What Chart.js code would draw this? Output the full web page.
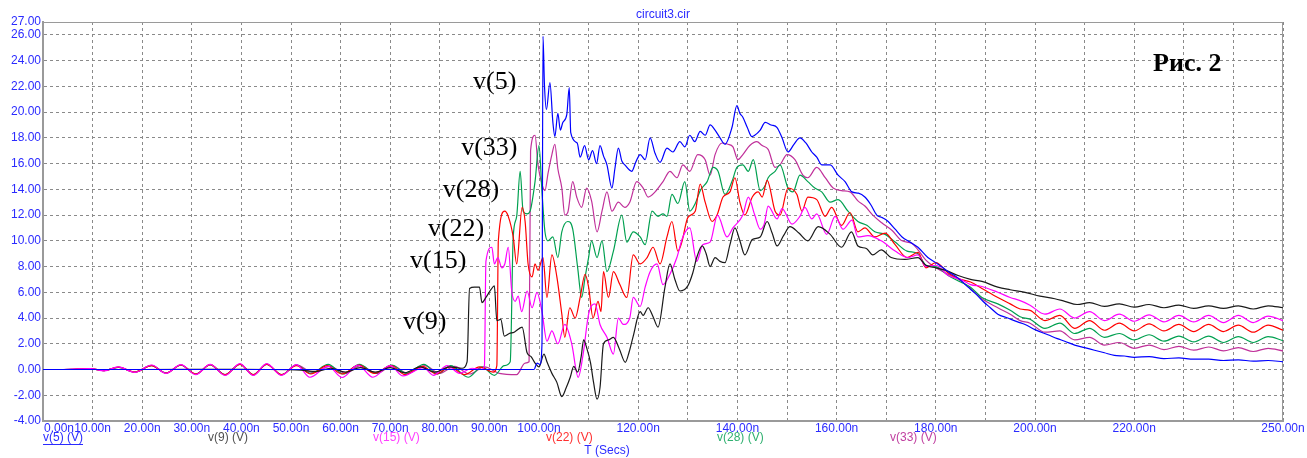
<!DOCTYPE html>
<html>
<head>
<meta charset="utf-8">
<script src="https://cdn.jsdelivr.net/npm/chart.js@4.4.0/dist/chart.umd.min.js"></script>
<style>
body { margin: 0; background: #fff; }
#wrap { position: relative; width: 1307px; height: 458px; }
</style>
</head>
<body>
<div id="wrap"><canvas id="plot"></canvas></div>
<script>
// transient voltages, [time ns, volts]
var v5 = [[0,0],[99,0],[99.6,0.5],[100.2,0.4],[100.6,2],[100.8,25.9],[101.1,22.1],[101.5,20.2],[102.2,22.3],[102.8,19.2],[103.2,18.1],[103.8,19.9],[104.3,18.6],[104.8,19.2],[105.6,19.8],[106.1,21.9],[106.4,18.4],[107.7,17.6],[108.3,16.5],[109.2,17.4],[110,16.3],[110.8,17.0],[111.6,16.0],[112.3,17.4],[113,16.6],[113.7,15.9],[114.7,14.1],[115.3,15.6],[116,17.2],[116.7,16.2],[117.3,15.9],[118.7,15.4],[119.5,16.1],[120.4,16.7],[121.4,16.3],[122.4,18.0],[123.4,16.8],[124.4,16.1],[125.8,17.2],[127,16.9],[128.4,17.7],[129.4,17.3],[130.4,18.2],[131.4,17.7],[132.5,18.5],[133.5,18.2],[134.5,19.0],[135.5,18.6],[136.5,18.0],[137.5,17.5],[138.9,18.8],[139.9,20.5],[140.5,19.9],[141.1,19.6],[142,18.8],[142.9,18.1],[143.5,18.2],[144.6,18.6],[145.6,19.2],[146.8,19.0],[148,18.8],[149,18.0],[150.2,16.9],[151.4,17.5],[152.6,18.0],[153.8,17.6],[155,16.9],[156,16.5],[157,15.9],[158.7,15.9],[160.3,15.1],[161.7,14.6],[163.1,13.8],[164.4,13.7],[165.7,13.4],[166.9,12.8],[168.1,12.0],[169.2,11.8],[170.4,11.5],[171.8,10.9],[173.2,10.3],[174.8,9.9],[176.4,9.5],[178.4,8.7],[180.4,8.2],[182.5,7.6],[184.5,7.1],[186.5,6.4],[188,5.9],[189.5,5.3],[191,4.8],[192.5,4.3],[194.5,4.0],[196.5,3.7],[198,3.5],[200,3.1],[202.6,2.7],[204.5,2.4],[206,2.2],[208,1.9],[210,1.7],[212,1.5],[214,1.3],[216,1.1],[218,1.05],[220,0.95],[223,1.0],[226,0.85],[229,0.9],[232,0.8],[235,0.8],[238,0.7],[241,0.75],[244,0.65],[247,0.7],[250,0.6]];

var v9 = [[0,0],[20,0],[40,0.02],[52,-0.05],[55,-0.15],[58,0.1],[61,-0.2],[64,0.15],[67,-0.2],[70,0.15],[73,-0.25],[76,0.2],[79,-0.2],[82,0.2],[84.5,0.1],[85.5,0.6],[86,6.3],[87,6.4],[88,6.4],[88.5,5.2],[89.3,5.6],[90.3,6.2],[91,6.5],[91.5,3.8],[92.3,3.9],[93,2.6],[94,2.8],[95,2.9],[96.6,3.3],[97.6,1.3],[98.4,1.0],[99.2,0.5],[100,0.2],[101,1.2],[101.6,0.6],[102.6,-0.3],[103.6,-1.0],[104.6,-2.1],[105.5,-1.4],[106.3,-0.6],[107,0.25],[107.8,-0.2],[108.5,1.0],[109,2.3],[109.6,1.7],[110.4,0.5],[111,-1.0],[111.7,-2.3],[112.3,-1.4],[113,2.0],[114,2.3],[115,2.5],[116.2,1.6],[117.4,0.56],[118.2,1.4],[119,2.6],[120.4,4.5],[121,4.2],[122,4.8],[123,4.1],[124,3.3],[125.4,6.4],[126.4,8.2],[127.4,7.0],[128.4,6.1],[130,6.5],[131,7.5],[131.8,8.7],[132.9,9.6],[133.7,9.0],[134.5,8.0],[135.5,8.7],[136.5,8.4],[137.5,8.3],[138.5,9.7],[139.5,11.0],[140.5,10.0],[141.5,8.9],[143,10.1],[144.6,10.3],[146,11.5],[147,10.6],[148,9.6],[149.3,10.4],[150.6,11.1],[152.4,10.6],[154.2,10.0],[156.3,11.1],[158.7,10.5],[161,9.5],[163,10.7],[164.3,9.6],[166,9.4],[167.3,8.9],[169,9.3],[171,8.7],[173.8,8.55],[176.4,8.7],[178,8.1],[180,7.9],[182,7.7],[184.5,7.3],[187,7.0],[189.3,6.85],[192.5,6.4],[195,6.2],[198,6.0],[201,5.7],[204,5.5],[206,5.3],[208.5,5.05],[211,5.2],[214,4.9],[217,5.1],[220,4.85],[223,5.05],[226,4.8],[229,5.0],[232,4.75],[235,4.95],[238,4.75],[241,4.95],[244,4.7],[247,4.95],[250,4.8]];

var v15 = [[0,0],[3,0],[6,0.03],[9.5,0.08],[12.3,-0.1],[15.2,0.2],[18.5,-0.22],[21.9,0.35],[24.8,-0.3],[27.8,0.38],[30.8,-0.4],[33.7,0.4],[36.7,-0.45],[39.7,0.45],[42.4,-0.45],[45.1,0.45],[48.1,-0.45],[51.1,0.38],[53.8,-0.6],[57.5,0.25],[60.3,-0.62],[63.5,0.34],[66.5,-0.6],[70,0.3],[72.6,-0.5],[76.7,0.15],[78.7,-0.45],[81.5,0.3],[84,-0.3],[86.5,0.1],[88.5,0.0],[89,0.3],[89.3,8.4],[90.5,9.5],[91,8.2],[91.7,8.7],[92.5,7.9],[93.1,8.2],[93.8,9.5],[94.5,6.1],[95.2,5.3],[95.8,5.7],[96.5,4.5],[97.6,6.1],[98.6,4.8],[99.6,6.0],[100.6,4.5],[101.6,2.2],[102.6,3.0],[103.8,2.0],[105.2,3.5],[106.6,2.0],[107.9,-0.6],[108.9,1.2],[110,4.3],[111.3,5.1],[112.3,3.5],[113.7,2.5],[115,1.2],[116,4.0],[117,3.5],[118.3,4.0],[119,5.6],[120.4,4.9],[121.4,6.4],[122.4,7.6],[123.8,8.2],[125,6.6],[126.4,7.4],[127.8,8.7],[129,10.3],[130.4,11.0],[131.8,8.4],[133,9.7],[134.5,9.9],[136,12.0],[137.9,10.3],[139.1,11.0],[141.1,12.0],[142.2,13.4],[143.5,12.0],[144.6,10.9],[145.4,11.3],[146.2,12.7],[148,11.7],[149,12.5],[151,11.3],[152.6,11.9],[153.6,12.6],[155,11.7],[156,12.1],[158,10.5],[159.7,11.9],[161.3,10.9],[163.1,11.6],[164.3,10.3],[166.3,10.4],[169,10.0],[171.8,9.2],[174.4,8.7],[176.4,8.9],[178,8.0],[180,8.1],[182.5,7.3],[185,7.0],[187,6.6],[189.3,6.45],[192.5,6.0],[195,5.6],[197,5.35],[199,5.0],[202,4.3],[205,4.7],[208,4.0],[211,4.5],[214,3.8],[217,4.3],[220,3.75],[223,4.25],[226,3.7],[229,4.2],[232,3.7],[235,4.2],[238,3.65],[241,4.2],[244,3.65],[247,4.15],[250,3.8]];

var v22 = [[0,0],[3,0],[6,0.02],[9.5,0.07],[12.3,-0.08],[15.2,0.18],[18.5,-0.2],[21.9,0.3],[24.8,-0.28],[27.8,0.35],[30.8,-0.35],[33.7,0.38],[36.7,-0.4],[39.7,0.4],[42.4,-0.4],[45.1,0.4],[48.1,-0.4],[51.1,0.3],[54,-0.35],[57.3,0.3],[60.3,-0.35],[63.7,0.35],[66.8,-0.3],[70.2,0.3],[73,-0.4],[76.5,0.25],[79.3,-0.35],[82,0.2],[85,-0.4],[88,0.2],[90.8,-0.2],[91.5,0.3],[91.8,10.0],[93.1,12.3],[93.8,11.9],[94.8,10.3],[95.5,8.2],[96.6,12.6],[97.2,11.5],[97.8,8.2],[98.6,7.2],[99.2,8.2],[99.8,7.7],[100.8,8.7],[101.6,5.6],[102.6,8.9],[103.6,7.2],[104.6,4.3],[105.2,2.5],[106.2,4.8],[107.3,4.0],[108.3,5.6],[109.3,7.4],[110,6.4],[110.9,4.0],[111.9,5.3],[112.5,4.5],[113,7.6],[114,5.6],[115,7.6],[116.3,6.6],[117.7,5.6],[119,8.9],[120.4,8.2],[121.8,8.7],[123,9.5],[124.4,8.2],[125.8,10.3],[126.8,11.5],[128,9.2],[128.8,9.9],[130,11.8],[131.5,12.3],[132.5,14.4],[133.5,13.0],[134.9,11.5],[135.9,12.0],[137.1,13.4],[138.5,13.8],[139.5,14.9],[140.5,13.0],[141.5,12.0],[143,13.4],[144.2,13.8],[145,13.4],[146,14.7],[147.6,12.3],[148.6,12.0],[150.2,14.1],[152,13.6],[153,12.3],[154.2,13.4],[156,13.2],[157.7,11.9],[159,12.6],[161,11.2],[162.7,12.2],[164.3,10.7],[165.7,11.0],[167.7,10.3],[169.8,10.6],[171.8,9.7],[174.2,8.7],[176.4,9.1],[178,7.9],[180,8.3],[182.5,7.5],[185,7.0],[187,6.8],[189.3,6.3],[192.5,5.6],[195,5.1],[197,4.7],[199,4.6],[202,3.8],[205,4.2],[208,3.2],[211,3.8],[214,3.05],[217,3.6],[220,3.0],[223,3.55],[226,3.0],[229,3.5],[232,2.95],[235,3.5],[238,2.95],[241,3.45],[244,2.9],[247,3.45],[250,3.05]];

var v28 = [[0,0],[3,0],[6,0.02],[9.5,0.06],[12.3,-0.08],[15.2,0.17],[18.5,-0.2],[21.9,0.3],[24.8,-0.27],[27.8,0.33],[30.8,-0.35],[33.7,0.36],[36.7,-0.4],[39.7,0.4],[42.4,-0.4],[45.1,0.4],[48.1,-0.4],[51.1,0.35],[54,-0.3],[57.5,0.4],[60.5,-0.35],[63.8,0.4],[67,-0.3],[70.3,0.35],[73.3,-0.3],[76.8,0.4],[79.5,-0.35],[82.2,0.3],[85.7,-0.6],[88.5,0.2],[91,-0.45],[93,0.3],[94.2,0.6],[94.8,10.3],[95.5,11.9],[96.2,15.4],[96.8,12.3],[97.6,12.1],[98.2,12.3],[99.2,14.6],[100,17.4],[100.6,13.8],[101.2,10.7],[101.8,10.0],[102.8,10.3],[103.8,8.7],[104.6,10.7],[105.8,11.5],[106.8,10.9],[107.8,7.9],[108.6,5.6],[109.3,7.2],[110,8.7],[110.6,10.0],[111.7,8.7],[112.7,10.0],[113.7,7.6],[115,9.2],[116.7,12.0],[117.7,9.9],[119,10.7],[120.4,10.3],[121.4,9.7],[122.8,12.3],[124,11.9],[125,12.1],[125.8,11.9],[126.8,13.6],[128,12.9],[129.4,14.6],[130.4,12.3],[131.5,12.9],[132.5,13.9],[133.9,14.6],[135.1,15.7],[136.1,15.4],[137.5,13.6],[138.9,14.6],[139.9,15.7],[141.1,15.9],[142.2,15.4],[143.2,16.3],[144.6,13.9],[145.6,14.3],[146.2,14.9],[147.6,15.4],[148.6,15.9],[150.2,14.1],[151.2,13.8],[152.6,15.1],[154.2,14.6],[155.6,14.1],[157,13.8],[158.7,13.0],[160.3,13.2],[162.3,12.3],[164.3,11.5],[166.1,11.2],[167.7,10.7],[169.8,10.5],[171.8,9.9],[174.2,9.2],[176.4,9.0],[178,8.1],[180,8.0],[182.5,7.3],[185,6.8],[187,6.4],[189.3,5.6],[192.5,5.1],[195,4.6],[197,4.1],[199,3.9],[202,3.2],[205,3.6],[208,2.8],[211,3.2],[214,2.5],[217,2.8],[220,2.3],[223,2.7],[226,2.2],[229,2.6],[232,2.15],[235,2.6],[238,2.1],[241,2.55],[244,2.1],[247,2.55],[250,2.25]];

var v33 = [[0,0],[3,0],[6,0.02],[9.5,0.07],[12.3,-0.09],[15.2,0.19],[18.5,-0.21],[21.9,0.32],[24.8,-0.29],[27.8,0.36],[30.8,-0.37],[33.7,0.38],[36.7,-0.42],[39.7,0.42],[42.4,-0.42],[45.1,0.42],[48.1,-0.42],[51.1,0.36],[54.5,-0.25],[57.8,0.25],[61,-0.3],[64,0.3],[67.3,-0.3],[70.5,0.3],[73.5,-0.3],[77,0.3],[80,-0.3],[83,0.25],[86,-0.35],[89,0.2],[92,-0.3],[95.5,-0.4],[97.2,0.5],[98,0.6],[98.3,17.0],[99.2,18.2],[99.8,15.9],[100.6,14.4],[101.2,13.9],[101.8,15.2],[102.6,16.7],[103.2,17.5],[103.8,15.6],[104.6,14.1],[105.2,12.0],[105.8,12.2],[106.8,14.6],[107.6,13.4],[108.6,12.6],[109.6,14.1],[110.6,13.1],[111.7,10.7],[112.7,12.3],[113.7,13.8],[114.7,12.3],[116,13.0],[117.3,12.6],[118.3,13.0],[119.7,14.6],[121,14.1],[122,13.4],[123.4,13.8],[125,14.6],[126.4,15.4],[127.8,14.9],[129,15.9],[130.4,15.4],[132,16.7],[133.5,16.3],[134.5,15.1],[135.5,16.7],[136.9,17.6],[138.1,17.5],[139.1,17.3],[140.1,16.3],[141.1,16.7],[142.5,17.4],[143.9,17.7],[145,17.4],[146.2,17.1],[147.6,15.7],[148.6,15.9],[150,16.7],[151.6,16.3],[153.2,15.1],[154.2,14.9],[156,15.7],[157.7,14.9],[159.3,14.1],[161,13.9],[162.7,13.8],[164.3,13.1],[165.7,12.7],[167.3,12.0],[169.1,11.4],[171.2,10.8],[173.2,10.0],[175.2,9.8],[176.4,9.3],[178,8.5],[180,7.9],[182.5,7.4],[185,6.9],[187,6.3],[189.3,5.5],[192.5,4.8],[195,4.3],[197,3.8],[199,3.6],[202,2.9],[205,3.0],[208,2.3],[211,2.5],[214,1.9],[217,2.1],[220,1.65],[223,1.9],[226,1.55],[229,1.8],[232,1.5],[235,1.75],[238,1.45],[241,1.7],[244,1.4],[247,1.65],[250,1.45]];

var seriesNames = ['v(5)', 'v(9)', 'v(15)', 'v(22)', 'v(28)', 'v(33)'];
var xGrid = [0,10,20,30,40,50,60,70,80,90,100,110,120,130,140,150,160,170,180,190,200,210,220,230,240,250];
var xTickLabels = [0,10,20,30,40,50,60,70,80,90,100,120,140,160,180,200,220,250];
var yTicks = [27,26,24,22,20,18,16,14,12,10,8,6,4,2,0,-2,-4];

var lineColors = ['#0000ff', '#1a1a1a', '#ff00ff', '#ff0000', '#00a050', '#c0309a'];
var legendColors = ['#2b2bff', '#505050', '#ff40ff', '#ff3030', '#30b070', '#c040a0'];
var legendOffsets = [0, 165, 330, 503, 674, 847];
// label placement, in axis units (left edge, vertical middle)
var notes = [
    ['v(5)', 86.7, 22.3],
    ['v(33)', 84.3, 17.2],
    ['v(28)', 80.6, 13.9],
    ['v(22)', 77.6, 10.9],
    ['v(15)', 74.0, 8.4],
    ['v(9)', 72.6, 3.7]
];

var blue = '#2b2bff';
var sans = '"Liberation Sans", Arial, sans-serif';
var serif = '"Liberation Serif", "Times New Roman", serif';

const textsPlugin = {
    id: 'texts',
    beforeDatasetsDraw(chart) {
        const a = chart.chartArea;
        const ctx = chart.ctx;
        ctx.save();
        ctx.strokeStyle = '#9a9a9a';
        ctx.lineWidth = 1;
        ctx.strokeRect(a.left + 0.5, a.top + 0.5, a.right - a.left - 1, a.bottom - a.top - 1);
        ctx.restore();
    },
    afterDraw(chart) {
        const ctx = chart.ctx;
        const a = chart.chartArea;
        const xs = chart.scales.x, ys = chart.scales.y;
        ctx.save();
        ctx.font = '12px ' + sans;
        ctx.textBaseline = 'middle';
        ctx.fillStyle = blue;
        xTickLabels.forEach((v, i) => {
            ctx.textAlign = i === 0 ? 'left' : 'center';
            ctx.fillText(v.toFixed(2) + 'n', xs.getPixelForValue(v) + (i === 0 ? 1 : 0), a.bottom + 8);
        });
        // series names under the axis
        ctx.textAlign = 'left';
        seriesNames.forEach((n, i) => {
            const txt = n + ' (V)';
            const px = a.left + legendOffsets[i];
            ctx.fillStyle = legendColors[i];
            ctx.fillText(txt, px, a.bottom + 17);
            if (i === 0) {
                const w = ctx.measureText(txt).width;
                ctx.fillRect(px, a.bottom + 23, w, 1);
            }
        });
        ctx.fillStyle = blue;
        ctx.textAlign = 'center';
        ctx.fillText('T (Secs)', 607, a.bottom + 30);
        ctx.fillText('circuit3.cir', (a.left + a.right) / 2, 15);

        ctx.fillStyle = '#000';
        ctx.textAlign = 'left';
        ctx.font = '26px ' + serif;
        notes.forEach(n => {
            ctx.fillText(n[0], xs.getPixelForValue(n[1]), ys.getPixelForValue(n[2]));
        });
        ctx.font = 'bold 26px ' + serif;
        ctx.fillText('Рис. 2', xs.getPixelForValue(223.8), ys.getPixelForValue(23.7));
        ctx.restore();
    }
};

var allSeries = [v5, v9, v15, v22, v28, v33];

document.addEventListener('DOMContentLoaded', function() {
    const ctx = document.getElementById('plot').getContext('2d');
    new Chart(ctx, {
        type: 'line',
        data: {
            datasets: allSeries.map((s, i) => ({
                label: seriesNames[i],
                data: s.map(p => ({x: p[0], y: p[1]})),
                borderColor: lineColors[i],
                borderWidth: 1.2,
                pointRadius: 0,
                fill: false,
                cubicInterpolationMode: 'monotone'
            }))
        },
        options: {
            responsive: true,
            maintainAspectRatio: false,
            animation: false,
            devicePixelRatio: 1,
            layout: { padding: { top: 22, right: 24, left: 0, bottom: 0 } },
            plugins: {
                legend: { display: false },
                tooltip: { enabled: false }
            },
            scales: {
                x: {
                    type: 'linear',
                    min: 0,
                    max: 250,
                    afterBuildTicks: s => { s.ticks = xGrid.map(v => ({ value: v })); },
                    afterFit: s => { s.height = 37; },
                    ticks: { display: false },
                    grid: { color: '#8a8a8a', lineWidth: 1, drawTicks: false },
                    border: { display: true, color: '#9a9a9a', width: 2, dash: [3, 3] }
                },
                y: {
                    min: -4,
                    max: 27,
                    afterBuildTicks: s => { s.ticks = yTicks.map(v => ({ value: v })); },
                    afterFit: s => { s.width = 43; },
                    ticks: {
                        autoSkip: false,
                        color: blue,
                        padding: 2,
                        font: { family: sans, size: 12 },
                        callback: v => v.toFixed(2)
                    },
                    grid: { color: '#8a8a8a', lineWidth: 1, drawTicks: false },
                    border: { display: true, color: '#9a9a9a', width: 2, dash: [3, 3] }
                }
            }
        },
        plugins: [textsPlugin]
    });
});
</script>
</body>
</html>
